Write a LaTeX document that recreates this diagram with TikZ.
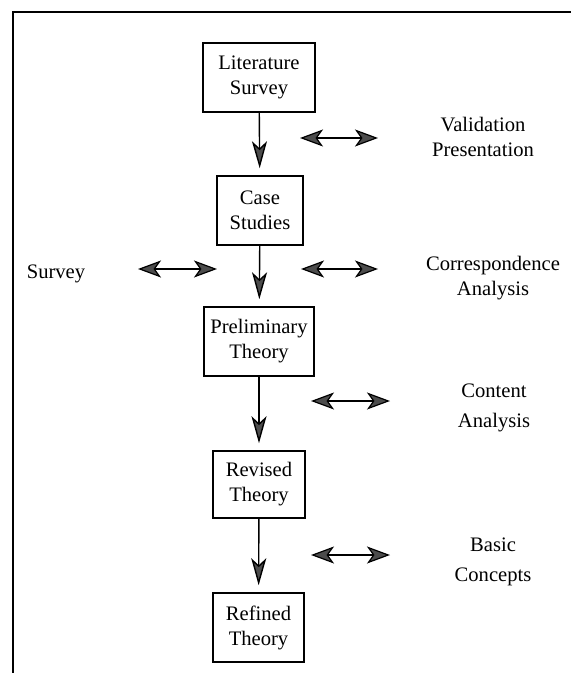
\documentclass[tikz,border=0pt]{standalone}
\usepackage{fontspec}
\setmainfont{Liberation Serif}
\usetikzlibrary{arrows.meta}

\begin{document}
\begin{tikzpicture}[x=0.5pt, y=-0.5pt, font=\fontsize{10.3}{12.5}\selectfont]
        \tikzstyle{stage}=[draw, line width=0.75pt, align=center, inner sep=0pt, minimum height=34.5pt]
        \tikzstyle{method}=[align=center, inner sep=0pt]
        \tikzstyle{flow}=[line width=0.7pt, -{Stealth[length=13.5pt, width=7.5pt, inset=3.5pt, fill=black!70]}, shorten >=3.5pt]
        \tikzstyle{link}=[line width=0.6pt, {Stealth[length=11.5pt, width=8.5pt, inset=3pt, fill=black!70]}-{Stealth[length=11.5pt, width=8.5pt, inset=3pt, fill=black!70]}]
        \useasboundingbox (0,0) rectangle (571,673);
        % frame
        \draw[line width=0.6pt] (13,673) -- (13,12) -- (571,12);
        % stages
        \node [stage, minimum width=56pt] (lit) at (259,77.5) {Literature\\Survey};
        \node [stage, minimum width=43pt] (case) at (260,210.5) {Case\\Studies};
        \node [stage, minimum width=55pt] (prelim) at (259,341.5) {Preliminary\\Theory};
        \node [stage, minimum width=46pt, minimum height=33.5pt] (revised) at (259,484.5) {Revised\\Theory};
        \node [stage, minimum width=45.5pt] (refined) at (258.5,627.5) {Refined\\Theory};
        \draw [flow] (lit) -- (case);
        \draw [flow] (case) -- (prelim);
        \draw [flow] (prelim) -- (revised);
        \draw [flow] (revised) -- (refined);
        % methods
        \node [method] (valid) at (483,136.5) {Validation\\Presentation};
        \node [method] (corr) at (493,278.5) {Correspondence\\Analysis};
        \node [method, font=\fontsize{10.3}{15}\selectfont] (content) at (494,408) {Content\\Analysis};
        \node [method, font=\fontsize{10.3}{15}\selectfont] (basic) at (493,562) {Basic\\Concepts};
        \node [method] (survey) at (56,274) {Survey};
        \coordinate (valid l) at (300,138); \coordinate (valid r) at (378,138);
        \coordinate (corr l) at (301,269); \coordinate (corr r) at (378,269);
        \coordinate (survey l) at (138,269); \coordinate (survey r) at (217,269);
        \coordinate (content l) at (311,401); \coordinate (content r) at (390,401);
        \coordinate (basic l) at (311,555); \coordinate (basic r) at (390,555);
        \draw [link] (valid l) -- (valid r);
        \draw [link] (corr l) -- (corr r);
        \draw [link] (survey l) -- (survey r);
        \draw [link] (content l) -- (content r);
        \draw [link] (basic l) -- (basic r);
\end{tikzpicture}
\end{document}
